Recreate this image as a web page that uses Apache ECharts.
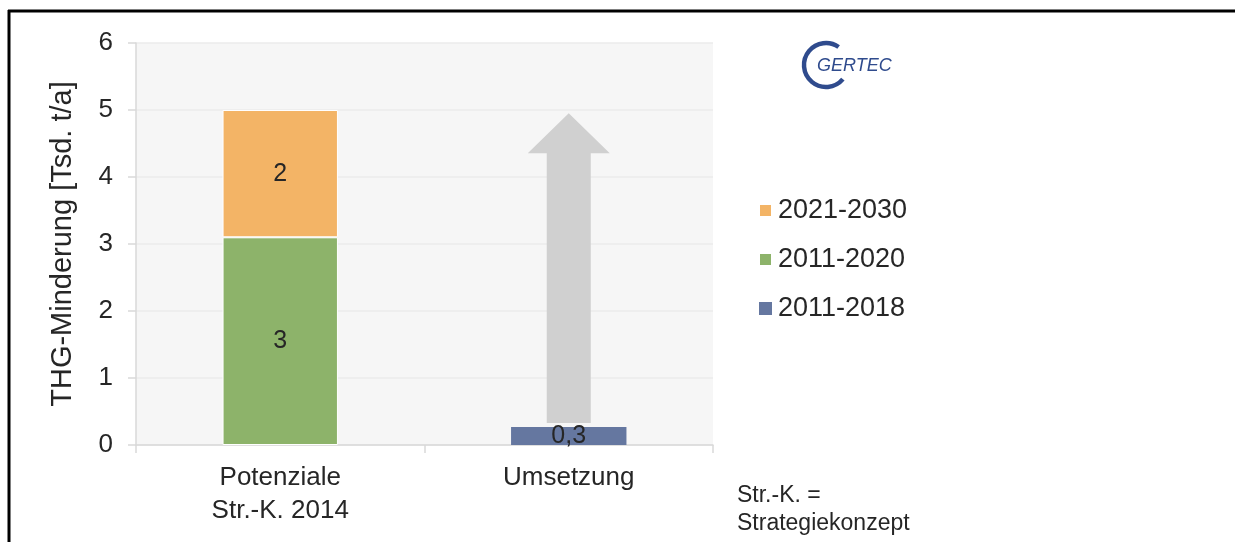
<!DOCTYPE html>
<html>
<head>
<meta charset="utf-8">
<script src="https://cdn.jsdelivr.net/npm/echarts@6/dist/echarts.min.js"></script>
<style>
  html, body { margin: 0; padding: 0; background: #fff; }
  #chart { width: 1235px; height: 542px; }
</style>
</head>
<body>
<div id="chart"></div>
<script>
// categories and values
const categories = ["Potenziale\nStr.-K. 2014", "Umsetzung"];
const yTicks = [0, 1, 2, 3, 4, 5, 6];
const period2011_2020 = [3.1, "-"];
const period2021_2030 = [1.9, "-"];
const period2011_2018 = ["-", 0.27];
// arrow on "Umsetzung": from top of the realised bar up to the potential
const arrow = [[1, 0.3, 4.95]];

const FONT = "Liberation Sans";
const TEXT = "#262626";

const chart = echarts.init(document.getElementById("chart"), null, { renderer: "canvas" });

// label formatter, German decimal comma
const fmt = (decimals) => (p) => Number(p.value).toFixed(decimals).replace(".", ",");

const barLabel = (decimals) => ({
    show: true,
    position: "inside",
    color: TEXT,
    fontFamily: FONT,
    fontSize: 25,
    formatter: fmt(decimals)
});

chart.setOption({
    animation: false,
    textStyle: { fontFamily: FONT },
    grid: {
        left: 136, right: 522, top: 43, bottom: 97,
        show: true, backgroundColor: "#f6f6f6", borderWidth: 0
    },
    legend: {
        data: ["2021-2030", "2011-2020", "2011-2018"],
        orient: "vertical",
        left: 758, top: 197, padding: 0,
        itemWidth: 13, itemHeight: 13, itemGap: 22,
        icon: "rect",
        textStyle: { fontSize: 27, color: TEXT, fontFamily: FONT, padding: [0, 0, 0, 1] }
    },
    xAxis: {
        type: "category",
        data: categories,
        axisLine: { lineStyle: { color: "#d9d9d9", width: 1.5 } },
        axisTick: { show: true, length: 8, lineStyle: { color: "#d9d9d9", width: 1.5 } },
        axisLabel: { fontSize: 26, color: TEXT, margin: 16, lineHeight: 33 },
        splitLine: { show: false }
    },
    yAxis: {
        type: "value",
        min: yTicks[0], max: yTicks[yTicks.length - 1], interval: 1,
        name: "THG-Minderung [Tsd. t/a]",
        nameLocation: "middle",
        nameGap: 59,
        nameTextStyle: { fontSize: 29, color: TEXT },
        axisLine: { show: true, lineStyle: { color: "#d9d9d9", width: 1.5 } },
        axisTick: { show: true, length: 8, lineStyle: { color: "#d9d9d9", width: 1.5 } },
        axisLabel: { fontSize: 26, color: TEXT, margin: 23 },
        splitLine: { lineStyle: { color: "#ebebeb", width: 1.5 } }
    },
    series: [
        {
            name: "2011-2020", type: "bar", stack: "total",
            data: period2011_2020, barWidth: "40%",
            itemStyle: { color: "#8db36a", borderColor: "#ffffff", borderWidth: 1 },
            label: barLabel(0)
        },
        {
            name: "2021-2030", type: "bar", stack: "total",
            data: period2021_2030, barWidth: "40%",
            itemStyle: { color: "#f3b466", borderColor: "#ffffff", borderWidth: 1 },
            label: barLabel(0)
        },
        {
            name: "2011-2018", type: "bar", stack: "total",
            data: period2011_2018, barWidth: "40%",
            itemStyle: { color: "#6577a0" },
            label: barLabel(1)
        },
        {
            name: "arrow", type: "custom",
            data: arrow,
            z: 1,
            silent: true,
            renderItem: function (params, api) {
                const base = api.coord([api.value(0), api.value(1)]);
                const tip = api.coord([api.value(0), api.value(2)]);
                const shaftHalf = 22, headHalf = 41, headLen = 40;
                const x = base[0];
                const headBase = tip[1] + headLen;
                return {
                    type: "polygon",
                    shape: {
                        points: [
                            [x - shaftHalf, base[1] - 2],
                            [x - shaftHalf, headBase],
                            [x - headHalf, headBase],
                            [x, tip[1]],
                            [x + headHalf, headBase],
                            [x + shaftHalf, headBase],
                            [x + shaftHalf, base[1] - 2]
                        ]
                    },
                    style: { fill: "#d0d0d0" }
                };
            }
        }
    ],
    graphic: [
        // frame lines at top and left
        { type: "line", shape: { x1: 8, y1: 11, x2: 1235, y2: 11 }, style: { stroke: "#000", lineWidth: 3 } },
        { type: "line", shape: { x1: 9, y1: 10, x2: 9, y2: 542 }, style: { stroke: "#000", lineWidth: 3 } },
        // GERTEC logo
        {
            type: "arc",
            shape: { cx: 826, cy: 65, r: 22, startAngle: 40 * Math.PI / 180, endAngle: 305 * Math.PI / 180 },
            style: { stroke: "#2f4b8d", lineWidth: 4.5, fill: null }
        },
        {
            type: "text", left: 817, top: 57,
            style: { text: "GERTEC", fill: "#2f4b8d", font: "italic 18px 'Liberation Sans'" }
        },
        // footnote
        {
            type: "text", left: 737, top: 482,
            style: { text: "Str.-K. =\nStrategiekonzept", fill: TEXT, fontSize: 23, fontFamily: FONT, lineHeight: 28 }
        }
    ]
});
</script>
</body>
</html>
